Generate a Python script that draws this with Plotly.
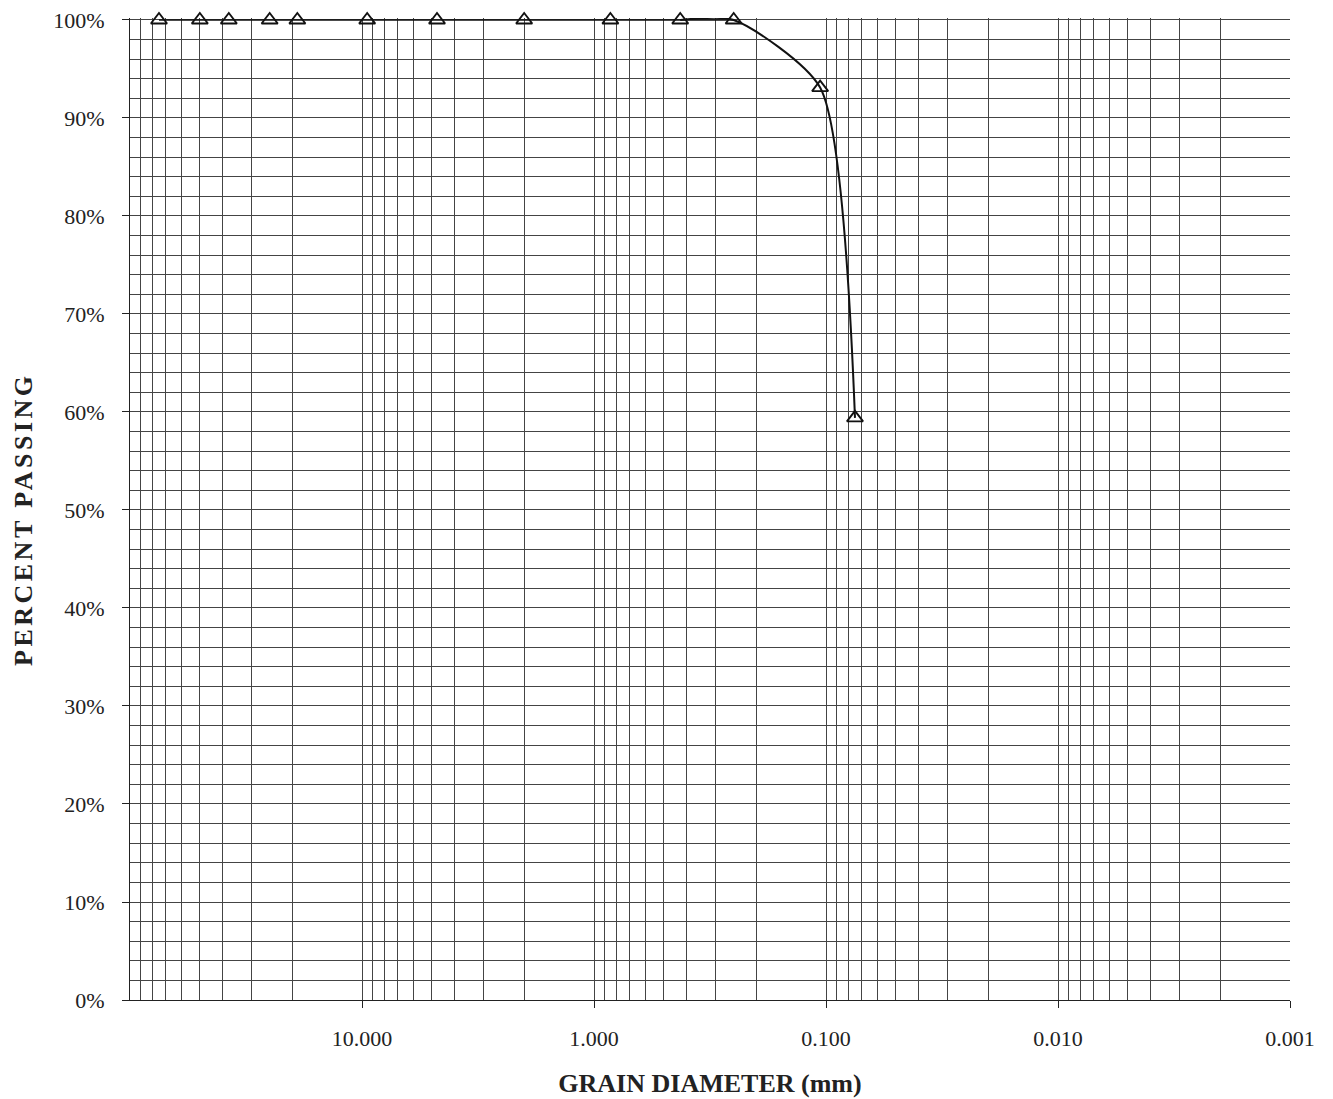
import plotly.graph_objects as go

# Data
sieve_mm = [75.0, 50.0, 37.5, 25.0, 19.0, 9.5, 4.75, 2.0, 0.85, 0.425, 0.25, 0.106, 0.075]
percent_passing = [100, 100, 100, 100, 100, 100, 100, 100, 100, 100, 100, 93.1, 59.4]

x_tick_vals = [10, 1, 0.1, 0.01, 0.001]
x_tick_text = ["10.000", "1.000", "0.100", "0.010", "0.001"]
y_tick_vals = [0, 10, 20, 30, 40, 50, 60, 70, 80, 90, 100]
y_tick_text = ["0%", "10%", "20%", "30%", "40%", "50%", "60%", "70%", "80%", "90%", "100%"]

# minor grid values: 2..9 x each decade
minor_vals = [m * 10 ** e for e in range(-3, 2) for m in range(2, 10)] + [100]

FONT = "Liberation Serif, Times New Roman, serif"
GRID = "#444444"

fig = go.Figure()

# flat part (linear line) up to the 0.25 mm point
n_flat = 11
fig.add_trace(go.Scatter(
    x=sieve_mm[:n_flat], y=percent_passing[:n_flat],
    mode="lines", line=dict(color="#111", width=1.6),
    hoverinfo="skip", showlegend=False))
# smoothed falling part (starts one point earlier so the tangent at 0.25 mm matches)
fig.add_trace(go.Scatter(
    x=sieve_mm[n_flat - 2:], y=percent_passing[n_flat - 2:],
    mode="lines", line=dict(color="#111", width=2, shape="spline", smoothing=0.65),
    hoverinfo="skip", showlegend=False))
# markers
fig.add_trace(go.Scatter(
    x=sieve_mm, y=percent_passing, mode="markers",
    marker=dict(symbol="triangle-up-open", size=14, color="#111", line=dict(width=1.9, color="#111")),
    cliponaxis=False, showlegend=False))

fig.update_layout(
    width=1333, height=1099,
    margin=dict(l=122, r=51, t=10, b=107, autoexpand=False),
    paper_bgcolor="white", plot_bgcolor="white",
    font=dict(family=FONT, size=22, color="#222"),
    showlegend=False,
    annotations=[dict(
        text='<b><span style="letter-spacing:3.5px">PERCENT PASSING</span></b>',
        textangle=-90, xref="paper", yref="paper", x=0, y=0.5,
        xanchor="center", yanchor="middle", xshift=-107, yshift=-10,
        showarrow=False, font=dict(family=FONT, size=26, color="#222"))],
)

fig.update_xaxes(
    type="log", range=[2, -3], autorange=False, automargin=False,
    tickvals=x_tick_vals, ticktext=x_tick_text,
    ticks="outside", ticklen=7, tickcolor="#222", tickwidth=1,
    ticklabelstandoff=12, ticklabeloverflow="allow",
    showgrid=True, gridcolor=GRID, gridwidth=1,
    minor=dict(tickvals=minor_vals, showgrid=True, gridcolor=GRID, gridwidth=1, ticks=""),
    showline=True, linecolor="#222", linewidth=1,
    zeroline=False,
    title=dict(text="<b>GRAIN DIAMETER (mm)</b>", font=dict(family=FONT, size=26, color="#222"), standoff=23),
)
fig.update_yaxes(
    range=[0, 100.2], autorange=False, automargin=False,
    tickvals=y_tick_vals, ticktext=y_tick_text,
    ticks="outside", ticklen=7, tickcolor="#222", tickwidth=1,
    ticklabelstandoff=13, ticklabeloverflow="allow",
    showgrid=True, gridcolor=GRID, gridwidth=1,
    minor=dict(dtick=2, showgrid=True, gridcolor=GRID, gridwidth=1, ticks=""),
    showline=True, linecolor="#222", linewidth=1,
    zeroline=False,
)

fig.write_html("out.html")
